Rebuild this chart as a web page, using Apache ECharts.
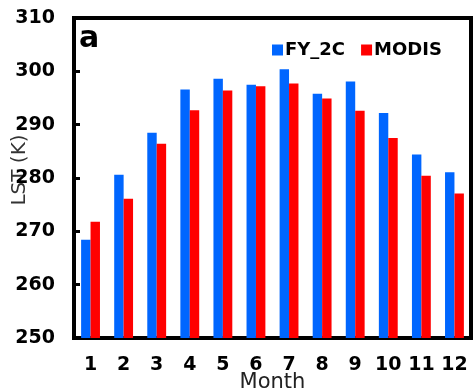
<!DOCTYPE html>
<html>
<head>
<meta charset="utf-8">
<script src="https://cdn.jsdelivr.net/npm/echarts@6/dist/echarts.min.js"></script>
<style>
    html, body { margin: 0; padding: 0; background: #fff; }
    #chart { width: 473px; height: 390px; }
</style>
</head>
<body>
<div id="chart"></div>
<script>
// 月份与两种数据源的地表温度 (K)
const months = ['1', '2', '3', '4', '5', '6', '7', '8', '9', '10', '11', '12'];
const fy2c = [268.4, 280.6, 288.5, 296.6, 298.6, 297.5, 300.4, 295.8, 298.1, 292.2, 284.4, 281.1];
const modis = [271.8, 276.1, 286.4, 292.7, 296.4, 297.2, 297.7, 294.9, 292.6, 287.5, 280.4, 277.1];

const boldFont = 'DejaVu Sans';

const chart = echarts.init(document.getElementById('chart'));

const option = {
    animation: false,
    grid: {
        left: 74,
        right: 2,
        top: 18,
        bottom: 52,
        outerBoundsMode: 'none',
        containLabel: false,
        show: true,
        borderColor: '#000',
        borderWidth: 4
    },
    legend: {
        data: ['FY_2C', 'MODIS'],
        top: 36,
        left: 267,
        icon: 'rect',
        itemWidth: 11,
        itemHeight: 11,
        itemGap: 16,
        textStyle: {
            fontFamily: boldFont,
            fontWeight: 'bold',
            fontSize: 18,
            color: '#000',
            padding: [0, 0, 0, -3]
        }
    },
    graphic: [{
        type: 'text',
        left: 79,
        top: 24,
        style: {
            text: 'a',
            font: 'bold 30px "DejaVu Sans"',
            fill: '#000'
        }
    }],
    xAxis: {
        type: 'category',
        data: months,
        name: 'Month',
        nameLocation: 'middle',
        nameGap: 34,
        nameMoveOverlap: false,
        nameTextStyle: {
            fontFamily: 'DejaVu Sans',
            fontSize: 21,
            color: '#222',
            verticalAlign: 'top'
        },
        axisLine: { show: true, lineStyle: { color: '#000', width: 4 } },
        axisTick: { show: false },
        axisLabel: {
            interval: 0,
            hideOverlap: false,
            margin: 18,
            fontFamily: boldFont,
            fontWeight: 'bold',
            fontSize: 19,
            color: '#000'
        }
    },
    yAxis: {
        type: 'value',
        min: 250,
        max: 310,
        interval: 10,
        name: 'LST (K)',
        nameLocation: 'middle',
        nameGap: 44,
        nameMoveOverlap: false,
        nameTextStyle: {
            fontFamily: 'DejaVu Sans',
            fontSize: 20,
            color: '#333',
            padding: [0, 0, 0, 16]
        },
        splitLine: { show: false },
        axisLine: { show: true, lineStyle: { color: '#000', width: 4 } },
        axisTick: { show: true, inside: true, length: 6, lineStyle: { color: '#000', width: 3 } },
        axisLabel: {
            margin: 19,
            fontFamily: boldFont,
            fontWeight: 'bold',
            fontSize: 19,
            color: '#000'
        }
    },
    series: [
        {
            name: 'FY_2C',
            type: 'bar',
            data: fy2c,
            barGap: 0,
            barCategoryGap: '43%',
            itemStyle: { color: '#0066ff' }
        },
        {
            name: 'MODIS',
            type: 'bar',
            data: modis,
            itemStyle: { color: '#ff0000' }
        }
    ]
};

chart.setOption(option);
</script>
</body>
</html>
